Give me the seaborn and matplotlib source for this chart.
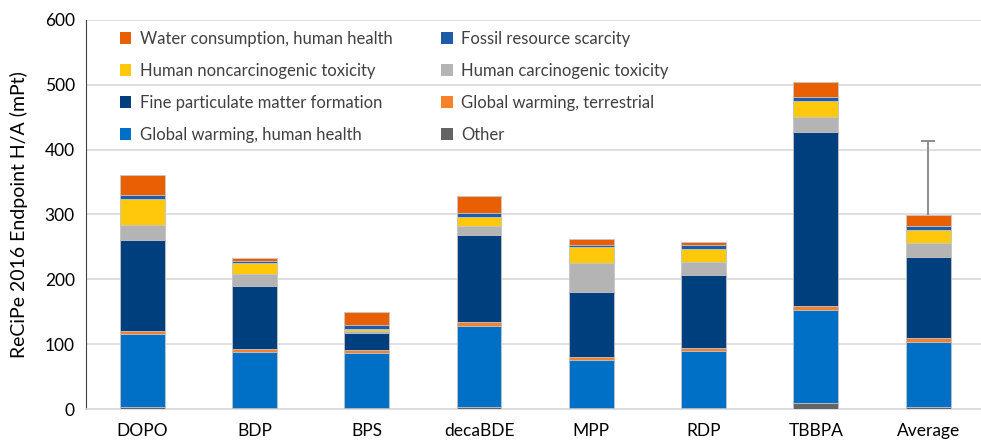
import numpy as np
import pandas as pd
import matplotlib
matplotlib.use("Agg")
import matplotlib.pyplot as plt
import seaborn as sns
from matplotlib.patches import Patch

compounds = ["DOPO", "BDP", "BPS", "decaBDE", "MPP", "RDP", "TBBPA", "Average"]

# stacked from bottom to top
other = [3, 2, 2, 3, 2, 2, 9, 3]
gw_human = [112, 86, 85, 125, 74, 88, 143, 101]
gw_terrestrial = [6, 4.5, 4, 6, 3.5, 4, 7.5, 5.5]
fine_pm = [140, 97, 26, 134.5, 100.5, 112.5, 268.5, 125.5]
human_carc = [23, 18, 3, 13.5, 45.5, 21, 23, 21.5]
human_noncarc = [40, 17, 3.5, 14, 25, 20, 24, 20]
fossil = [6, 4, 5.5, 6, 3, 5.5, 7, 6]
water = [31, 4, 21, 27, 8, 4, 22, 16]
average_err = 114.5

layers = [
    ("Other", other, "#646464"),
    ("Global warming, human health", gw_human, "#0070C6"),
    ("Global warming, terrestrial", gw_terrestrial, "#F7812A"),
    ("Fine particulate matter formation", fine_pm, "#003F7D"),
    ("Human carcinogenic toxicity", human_carc, "#B4B4B4"),
    ("Human noncarcinogenic toxicity", human_noncarc, "#FFC80A"),
    ("Fossil resource scarcity", fossil, "#1C5CA8"),
    ("Water consumption, human health", water, "#E85F04"),
]

df = pd.DataFrame({"compound": compounds})
cum = np.zeros(len(compounds))
for name, vals, col in layers:
    cum = cum + np.array(vals, dtype=float)
    df[name] = cum

plt.rcParams["font.family"] = ["Lato", "DejaVu Sans"]
fig = plt.figure(figsize=(9.81, 4.41), dpi=100)
ax = fig.add_axes([86 / 981, 32 / 441, (981 - 86) / 981, 389 / 441])

# draw cumulative totals from top layer down so they overlap into a stack
for name, vals, col in reversed(layers):
    sns.barplot(data=df, x="compound", y=name, color=col, width=0.4,
                saturation=1, edgecolor="#C8C8C8", linewidth=0.6, ax=ax, zorder=3)

eb = ax.errorbar(7, df[layers[-1][0]].iloc[-1], yerr=[[0], [average_err]], fmt="none",
                 ecolor="#8C8C8C", elinewidth=1.4, capsize=5, capthick=1.4, zorder=4)
eb[1][0].set_visible(False)  # only the upper cap

ax.set_ylim(0, 600)
ax.set_xlim(-0.5, 7.47)
ax.set_yticks(range(0, 601, 100))
ax.yaxis.grid(True, color="#D9D9D9", linewidth=1.2, zorder=0)
ax.set_axisbelow(True)
for s in ["top", "right"]:
    ax.spines[s].set_visible(False)
ax.spines["left"].set_color("#404040")
ax.spines["bottom"].set_color("#D9D9D9")
ax.spines["bottom"].set_linewidth(1.2)
ax.tick_params(axis="both", length=0, labelsize=12.5, colors="#000000", pad=8)
ax.tick_params(axis="x", pad=10)
ax.set_xlabel("")
ax.set_ylabel("ReCiPe 2016 Endpoint H/A (mPt)", fontsize=14, labelpad=12)

order = [7, 5, 3, 1, 6, 4, 2, 0]
handles = [Patch(facecolor=layers[i][2], label=layers[i][0]) for i in order]
ax.legend(handles=handles, ncol=2, frameon=False, loc="upper left",
          bbox_to_anchor=(0.021, 1.01), fontsize=12, handlelength=0.7,
          handleheight=0.7, handletextpad=0.5, labelspacing=0.95,
          columnspacing=2.9, labelcolor="#404040")

fig.savefig("out.png", dpi=100)
